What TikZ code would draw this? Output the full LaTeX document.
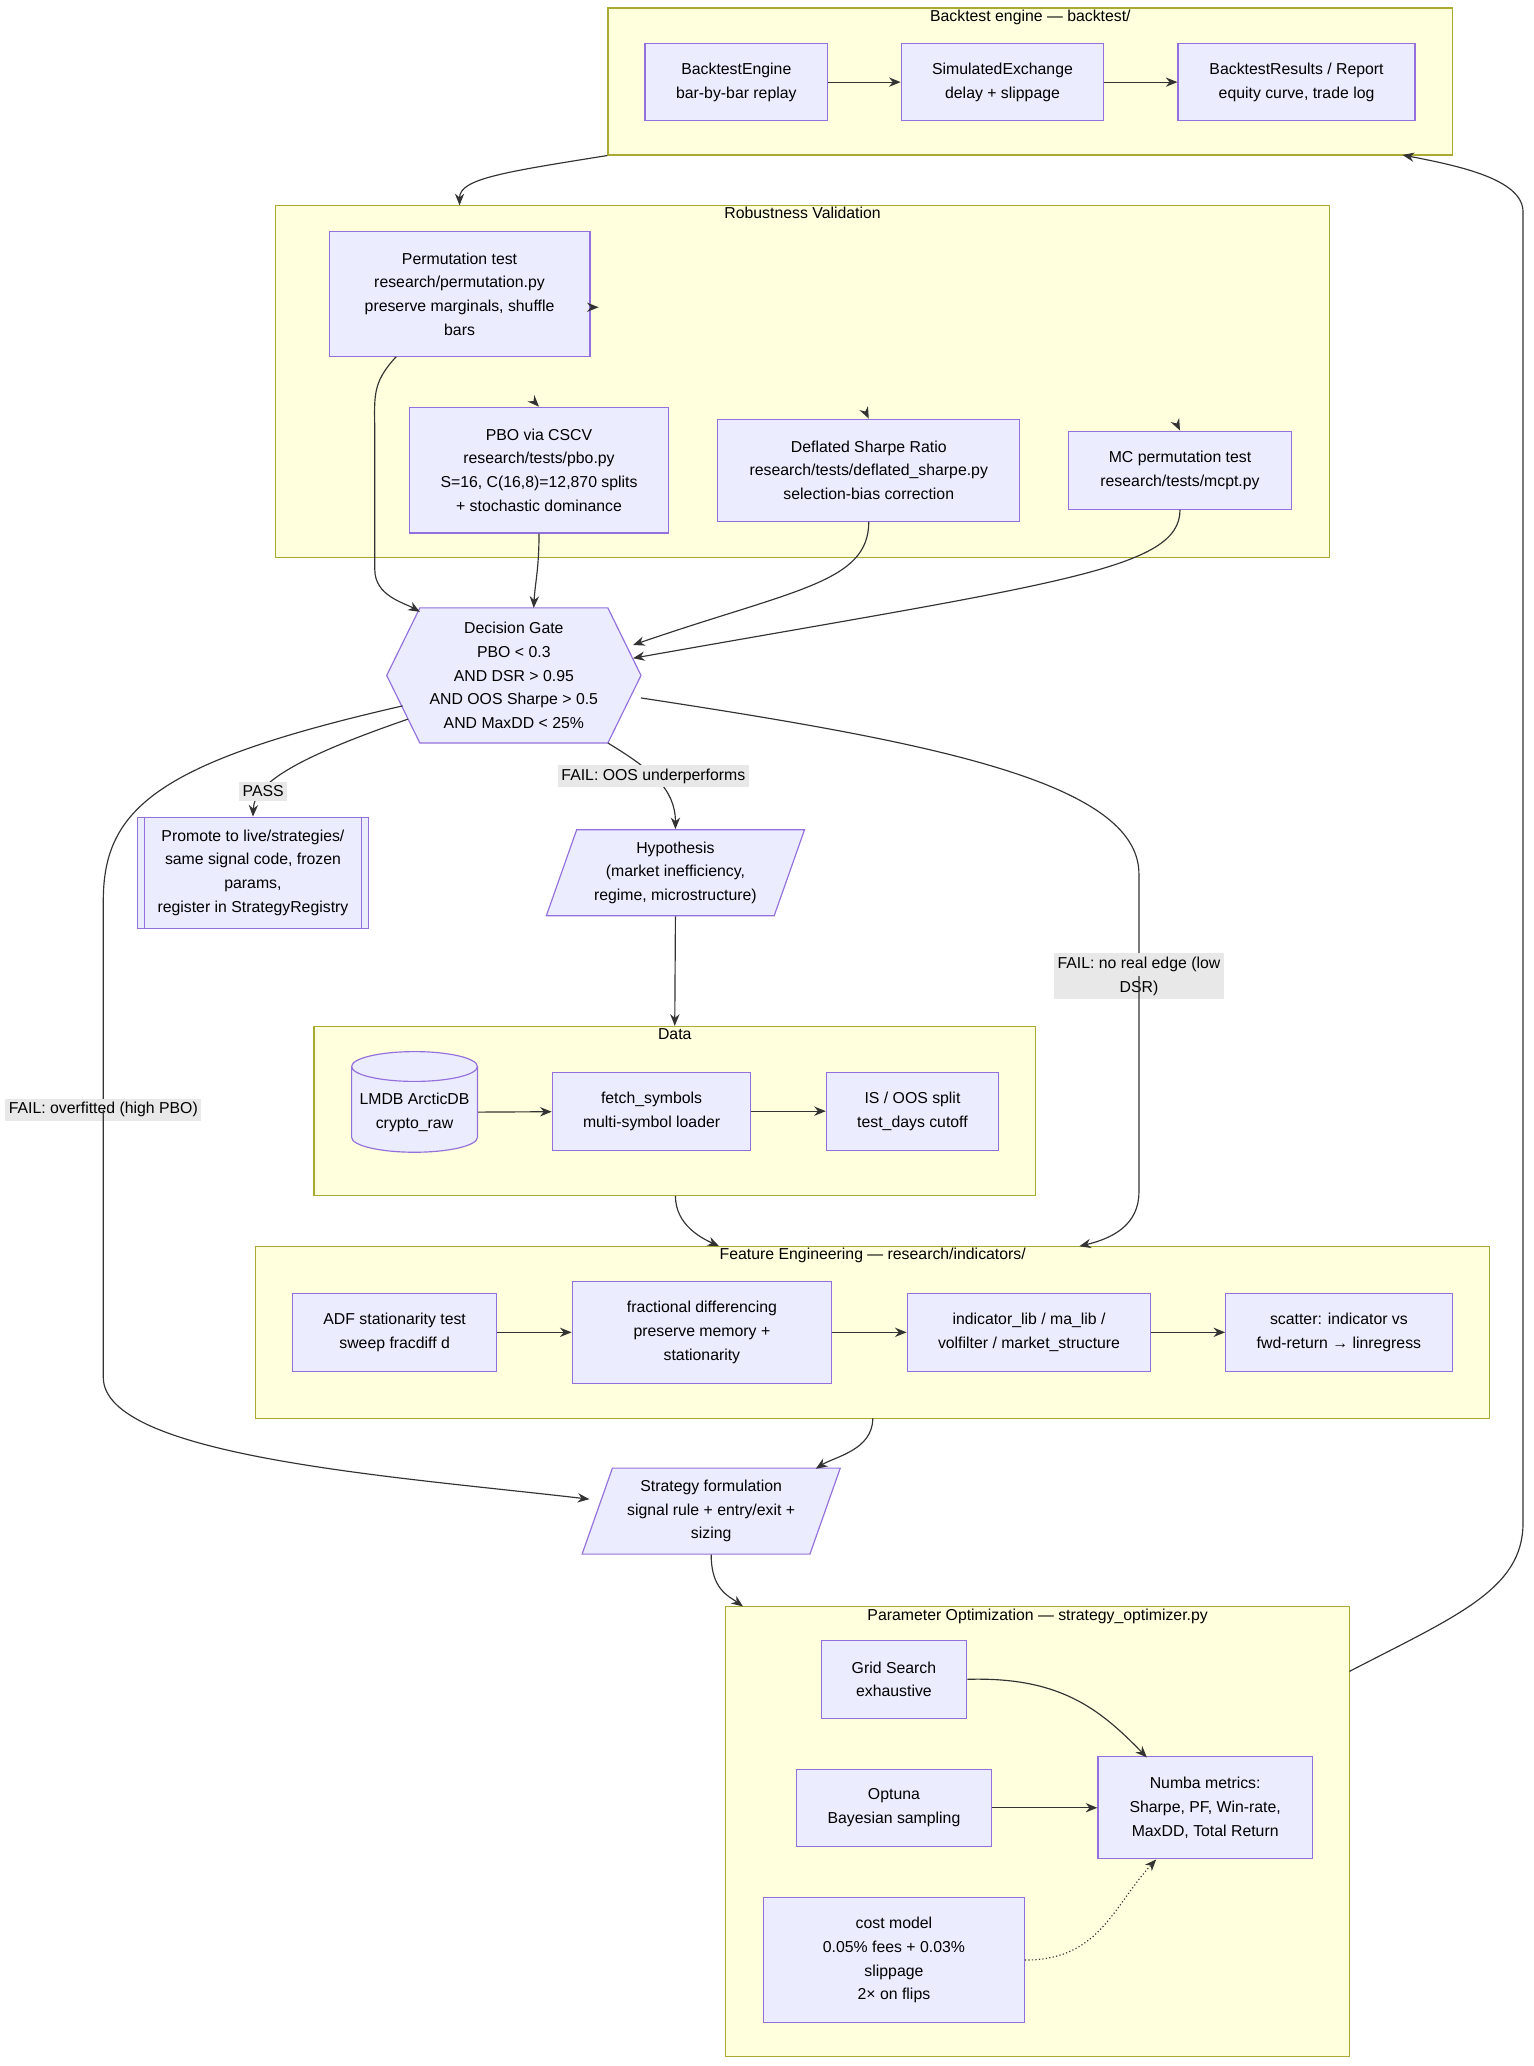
\documentclass[tikz,border=0pt]{standalone}
\usepackage{fontspec}
\setmainfont{Liberation Sans}
\usetikzlibrary{shapes.geometric,calc,arrows.meta}
\definecolor{clfill}{HTML}{FFFFDE}
\definecolor{cldraw}{HTML}{AAAA33}
\definecolor{ndfill}{HTML}{ECECFF}
\definecolor{nddraw}{HTML}{9370DB}
\definecolor{lbfill}{HTML}{E8E8E8}
\definecolor{edge}{HTML}{333333}
\tikzset{
  cluster/.style={draw=cldraw, fill=clfill, line width=0.5pt},
  ctitle/.style={anchor=north, inner sep=1pt},
  box/.style={draw=nddraw, fill=ndfill, line width=0.5pt, align=center, inner sep=2pt},
  para/.style={box, trapezium, trapezium left angle=67, trapezium right angle=113, trapezium stretches body=true},
  elabel/.style={fill=lbfill, inner sep=1.5pt, align=center},
  link/.style={draw=edge, line width=0.5pt, -{Stealth[length=5pt,width=4pt]}},
}
\begin{document}
\begin{tikzpicture}[x=0.02cm, y=-0.02cm, every node/.style={font=\fontsize{6.8}{10.2}\selectfont}]
\useasboundingbox (0,0) rectangle (1158,1560);
% clusters
\node[cluster, minimum width=12.76cm, minimum height=2.22cm] (backtest) at (778,61.5) {};
\node[ctitle] at (backtest.north) {Backtest engine — backtest/};
\node[cluster, minimum width=15.92cm, minimum height=5.32cm] (robust) at (606,288) {};
\node[ctitle] at (robust.north) {Robustness Validation};
\node[cluster, minimum width=10.9cm, minimum height=2.56cm] (data) at (509.5,839) {};
\node[ctitle] at (data.north) {Data};
\node[cluster, minimum width=18.64cm, minimum height=2.6cm] (feature) at (659,1006) {};
\node[ctitle] at (feature.north) {Feature Engineering — research/indicators/};
\node[cluster, minimum width=9.42cm, minimum height=6.8cm] (param) at (783.5,1383) {};
\node[ctitle] at (param.north) {Parameter Optimization — strategy\_optimizer.py};

% backtest
\node[box, minimum width=2.76cm, minimum height=1.16cm] (engine) at (556,62) {BacktestEngine\\bar-by-bar replay};
\node[box, minimum width=3.06cm, minimum height=1.16cm] (simex) at (757,62) {SimulatedExchange\\delay + slippage};
\node[box, minimum width=3.58cm, minimum height=1.16cm] (results) at (979,62) {BacktestResults / Report\\equity curve, trade log};

% robustness
\node[box, minimum width=3.94cm, minimum height=1.88cm] (perm) at (347,222) {Permutation test\\research/permutation.py\\preserve marginals, shuffle\\bars};
\node[box, minimum width=3.92cm, minimum height=1.9cm] (pbo) at (407,355) {PBO via CSCV\\research/tests/pbo.py\\S=16, C(16,8)=12,870 splits\\+ stochastic dominance};
\node[box, minimum width=4.56cm, minimum height=1.54cm] (dsr) at (656,355) {Deflated Sharpe Ratio\\research/tests/deflated\_sharpe.py\\selection-bias correction};
\node[box, minimum width=3.36cm, minimum height=1.18cm] (mcpt) at (891,355) {MC permutation test\\research/tests/mcpt.py};
\coordinate (t1) at (446,232); \coordinate (t2) at (405,305);
\coordinate (t3) at (655,314); \coordinate (t4) at (890,323);
\draw[link] (t1) -- ++(6,0);
\draw[link] (t2) -- (pbo.north);
\draw[link] (t3) -- (dsr.north);
\draw[link] (t4) -- (mcpt.north);

% gate
\draw[draw=nddraw, fill=ndfill, line width=0.5pt] (292,510) -- (317,459) -- (459,459) -- (484,510) -- (459,561) -- (317,561) -- cycle;
\node[align=center, minimum width=3.84cm, minimum height=2.04cm, inner sep=0pt] (gate) at (388,510) {Decision Gate\\PBO < 0.3\\AND DSR > 0.95\\AND OOS Sharpe > 0.5\\AND MaxDD < 25\%};

\node[box, minimum width=3.5cm, minimum height=1.68cm] (promote) at (191,659) {Promote to live/strategies/\\same signal code, frozen\\params,\\register in StrategyRegistry};
\draw[draw=nddraw, line width=0.5pt] ($(promote.north west)+(6,0)$) -- ($(promote.south west)+(6,0)$)
  ($(promote.north east)+(-6,0)$) -- ($(promote.south east)+(-6,0)$);
\node[para, minimum width=3.9cm, minimum height=1.3cm] (hyp) at (510,659) {Hypothesis\\(market inefficiency,\\regime, microstructure)};

% data
\node[box, cylinder, shape border rotate=90, aspect=0.25, minimum width=1.9cm, minimum height=1.52cm] (lmdb) at (313,840) {LMDB ArcticDB\\crypto\_raw};
\node[box, minimum width=3.0cm, minimum height=1.18cm] (fetch) at (492,839) {fetch\_symbols\\multi-symbol loader};
\node[box, minimum width=2.6cm, minimum height=1.18cm] (split) at (689,839) {IS / OOS split\\test\_days cutoff};

% features
\node[box, minimum width=3.08cm, minimum height=1.18cm] (adf) at (298,1006) {ADF stationarity test\\sweep fracdiff d};
\node[box, minimum width=3.92cm, minimum height=1.54cm] (frac) at (530,1006) {fractional differencing\\preserve memory +\\stationarity};
\node[box, minimum width=3.68cm, minimum height=1.18cm] (indic) at (777,1006) {indicator\_lib / ma\_lib /\\volfilter / market\_structure};
\node[box, minimum width=3.42cm, minimum height=1.18cm] (scatter) at (1011,1006) {scatter: indicator vs\\fwd-return → linregress};

\node[para, minimum width=3.9cm, minimum height=1.3cm] (strat) at (537,1141) {Strategy formulation\\signal rule + entry/exit +\\sizing};

% optimization
\node[box, minimum width=2.2cm, minimum height=1.18cm] (grid) at (675,1268) {Grid Search\\exhaustive};
\node[box, minimum width=2.94cm, minimum height=1.16cm] (optuna) at (675,1365) {Optuna\\Bayesian sampling};
\node[box, minimum width=3.24cm, minimum height=1.54cm] (numba) at (910,1365) {Numba metrics:\\Sharpe, PF, Win-rate,\\MaxDD, Total Return};
\node[box, minimum width=3.94cm, minimum height=1.88cm] (cost) at (675,1480) {cost model\\0.05\% fees + 0.03\%\\slippage\\2× on flips};

% edges
\draw[link] (engine) -- (simex);
\draw[link] (simex) -- (results);
\draw[link] (backtest.south west) .. controls (380,130) and (347,135) .. (347,155);
\draw[link] ($(perm.south west)+(51,0)$) .. controls (280,290) and (283,300) .. (283,330) -- (283,430) .. controls (283,450) and (305,455) .. (317,462);
\draw[link] (pbo.south) .. controls (407,430) and (404,440) .. (403,459);
\draw[link] (dsr.south) .. controls (656,440) and (600,445) .. (478,487);
\draw[link] (mcpt.south) .. controls (891,430) and (800,440) .. (478,497);
\draw[link] (308,543) .. controls (230,570) and (192,590) .. (promote.north) node[elabel, pos=0.75] {PASS};
\draw[link] (459,561) .. controls (490,580) and (510,595) .. (hyp.north) node[elabel, pos=0.45] {FAIL: OOS underperforms};
\draw[draw=edge, line width=0.5pt] (484,527) .. controls (700,560) and (860,590) .. (860,660) -- (860,737) node[elabel] {FAIL: no real edge (low\\DSR)};
\draw[link] (860,737) -- (860,900) .. controls (860,925) and (840,935) .. (815,941);
\draw[draw=edge, line width=0.5pt] (304,533) .. controls (120,575) and (78,610) .. (78,680) -- (78,838) node[elabel] {FAIL: overfitted (high PBO)};
\draw[link] (78,838) -- (78,1040) .. controls (78,1100) and (300,1115) .. (445,1132);
\draw[link] (hyp.south) -- (data.north);
\draw[link] (lmdb) -- (fetch);
\draw[link] (fetch) -- (split);
\draw[link] (510,903) .. controls (510,925) and (530,935) .. (543,941);
\draw[link] (adf) -- (frac);
\draw[link] (frac) -- (indic);
\draw[link] (indic) -- (scatter);
\draw[link] (659,1071) .. controls (659,1095) and (630,1100) .. (616,1109);
\draw[link] (strat.south) .. controls (537,1200) and (550,1205) .. (561,1213);
\draw[link] (grid.east) .. controls (800,1266) and (830,1290) .. (866,1327);
\draw[link] (optuna) -- (numba);
\draw[link, densely dotted] (cost.east) .. controls (830,1480) and (840,1440) .. (873,1404);
\draw[link] (1019,1262) .. controls (1100,1220) and (1150,1200) .. (1150,1150) -- (1150,160) .. controls (1150,135) and (1100,125) .. (1059,117);
\end{tikzpicture}
\end{document}
